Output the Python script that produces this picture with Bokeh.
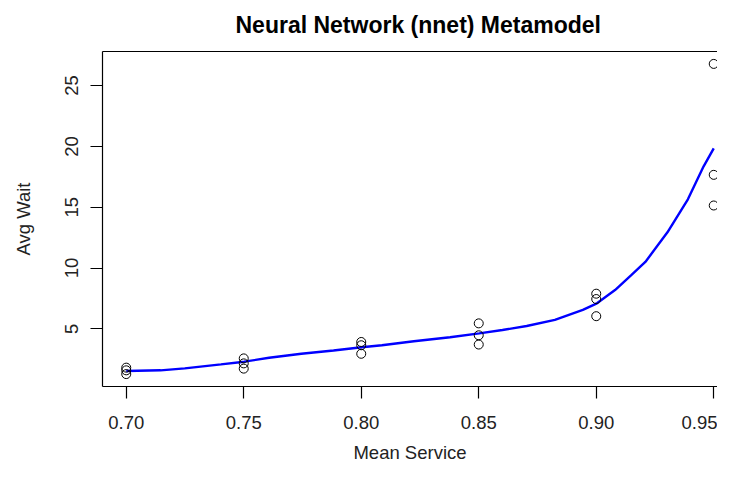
from bokeh.plotting import figure
from bokeh.models import Range1d, LinearAxis, FixedTicker, NumeralTickFormatter, Title
from bokeh.embed import file_html
from bokeh.resources import INLINE

# Observed data (Mean Service vs Avg Wait)
obs_x = [0.70, 0.70, 0.70, 0.75, 0.75, 0.75, 0.80, 0.80, 0.80,
         0.85, 0.85, 0.85, 0.90, 0.90, 0.90, 0.95, 0.95, 0.95]
obs_y = [1.81, 1.59, 1.28, 2.57, 2.16, 1.73, 3.92, 3.65, 2.95,
         5.45, 4.47, 3.71, 7.89, 7.45, 6.04, 26.78, 17.66, 15.14]

# nnet metamodel prediction curve
fit_x = [0.700, 0.7146, 0.7249, 0.7403, 0.7502, 0.7608, 0.7745, 0.7882, 0.8002,
         0.8088, 0.8224, 0.8378, 0.8502, 0.8601, 0.8704, 0.8824, 0.8943, 0.9003,
         0.9080, 0.9149, 0.9209, 0.9303, 0.9390, 0.9457, 0.9500]
fit_y = [1.54, 1.59, 1.75, 2.08, 2.30, 2.62, 2.95, 3.22, 3.49,
         3.65, 3.98, 4.31, 4.63, 4.90, 5.23, 5.74, 6.56, 7.10,
         8.19, 9.41, 10.50, 12.94, 15.65, 18.36, 19.83]

x_ticks = [0.70, 0.75, 0.80, 0.85, 0.90, 0.95]
y_ticks = [5, 10, 15, 20, 25]

FONT = "Liberation Sans"

p = figure(width=717, height=465, output_backend="svg", toolbar_location=None,
           x_range=Range1d(0.6899, 0.9516), y_range=Range1d(0.26, 27.8),
           x_axis_location=None, y_axis_location=None,
           min_border_left=102, min_border_right=0, min_border_top=0, min_border_bottom=76)
p.outline_line_color = None
p.grid.visible = False
p.background_fill_color = "white"
p.border_fill_color = "white"

p.title = Title(text="Neural Network (nnet) Metamodel", align="left", vertical_align="top",
                text_font=FONT, text_font_size="23px", text_font_style="bold",
                text_color="black", text_line_height=1.26, offset=133, standoff=23)

xaxis = LinearAxis(ticker=FixedTicker(ticks=x_ticks),
                   formatter=NumeralTickFormatter(format="0.00"),
                   axis_label="Mean Service")
yaxis = LinearAxis(ticker=FixedTicker(ticks=y_ticks), axis_label="Avg Wait")
top_axis = LinearAxis(ticker=FixedTicker(ticks=[]), major_label_text_font_size="0px",
                      major_tick_line_color=None, minor_tick_line_color=None)

for ax in (xaxis, yaxis):
    ax.axis_line_color = "black"
    ax.axis_line_width = 1.2
    ax.major_tick_line_color = "black"
    ax.major_tick_line_width = 1.2
    ax.major_tick_in = 0
    ax.major_tick_out = 12
    ax.minor_tick_line_color = None
    ax.major_label_text_font = FONT
    ax.major_label_text_font_size = "18.5px"
    ax.major_label_text_color = "#222222"
    ax.axis_label_text_font = FONT
    ax.axis_label_text_font_size = "18.5px"
    ax.axis_label_text_font_style = "normal"
    ax.axis_label_text_color = "#222222"
    ax.major_label_text_line_height = 1.0

xaxis.axis_label_text_line_height = 0.6
yaxis.axis_label_text_line_height = 1.0
xaxis.major_label_standoff = 17
xaxis.axis_label_standoff = 10
yaxis.major_label_orientation = "parallel"
yaxis.major_label_standoff = 12
yaxis.axis_label_standoff = 29
top_axis.axis_line_color = "black"
top_axis.axis_line_width = 1.2

p.add_layout(xaxis, "below")
p.add_layout(yaxis, "left")
p.add_layout(top_axis, "above")

p.line(fit_x, fit_y, line_color="#0000FF", line_width=2.4)
p.scatter(obs_x, obs_y, size=9, marker="circle", fill_color=None,
          line_color="black", line_width=1)

open("out.html", "w").write(file_html(p, INLINE))
